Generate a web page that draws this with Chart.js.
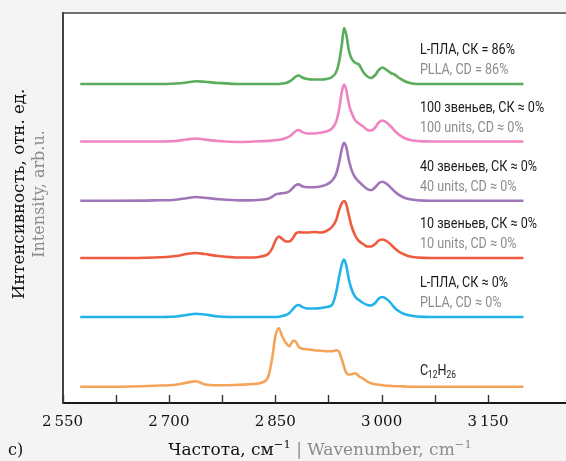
<!DOCTYPE html>
<html>
<head>
<meta charset="utf-8">
<script src="https://cdn.jsdelivr.net/npm/chart.js@4.4.0/dist/chart.umd.min.js"></script>
<style>
  html, body { margin: 0; padding: 0; background: #f4f4f4; }
  #wrap { width: 566px; height: 461px; }
</style>
</head>
<body>
<div id="wrap"><canvas id="ramanChart" width="566" height="461"></canvas></div>
<script>
/* Raman spectra, C-H stretching region (stacked, offset for clarity) */
var wavenumbers = [2575, 2620, 2680, 2710, 2725, 2738, 2750, 2770, 2800, 2820, 2830, 2840, 2846, 2850,
  2855, 2860, 2865, 2870, 2875, 2879, 2883, 2888, 2895, 2905, 2915, 2922, 2930, 2936, 2940, 2944,
  2947, 2950, 2954, 2958, 2963, 2968, 2974, 2980, 2985, 2991, 2996, 3001, 3007, 3013, 3018, 3025,
  3032, 3040, 3050, 3070, 3100, 3150, 3200];

var plla86 = [0, 0, 0, 0.5, 1.5, 2.7, 2.2, 1, 0, 0, 0, 0, 0, 0,
  0, 0.5, 1, 2.5, 5, 7.5, 8.5, 6.5, 5, 4.5, 4.5, 5, 7, 12, 22, 40,
  56, 50, 33, 25, 21, 19.5, 12, 7.5, 6, 9, 14, 16.5, 14, 11, 9.5, 6,
  3, 1, 0, 0, 0, 0, 0];
var units100 = [0, 0, 0, 0.5, 2, 3, 2, 0.5, -0.5, 0, 0.3, 0.6, 1, 1.3,
  1.7, 2.2, 3.5, 5, 8, 10.5, 11.5, 9.5, 8, 8, 9, 10, 13, 20, 32, 50,
  57, 52, 37, 28, 21, 18, 15, 11.5, 11, 14, 19, 21, 19, 15, 11, 6.5,
  3.5, 1.5, 0.5, 0, 0, 0, 0];
var units40 = [0, 0, 0.3, 1, 2.5, 3.7, 3, 1.5, 0.3, 0.5, 1, 2, 4, 6,
  7, 7.5, 8, 9.5, 13, 15.5, 16.3, 14.5, 13.5, 13.5, 14.5, 16, 20, 27, 38, 52,
  58, 54, 40, 30, 23, 19, 15, 11.5, 10.5, 13.5, 17.5, 19, 17, 13, 9.5, 5.5,
  3, 1.5, 0.5, 0, 0, 0, 0];
var units10 = [0, 0, 0.5, 2, 4, 5, 4, 2, 0.5, 0.5, 1.5, 4, 10, 17,
  21.5, 19, 16.5, 16.5, 20, 24.5, 25.7, 25.5, 25.5, 26, 25.5, 27, 31, 38, 48, 55,
  57, 54, 42, 31, 22, 17, 14, 11.5, 11.5, 14, 17.5, 18.5, 17, 13.5, 10, 6,
  3.5, 1.5, 0.5, 0, 0, 0, 0];
var plla0 = [0, 0, 0, 0.5, 2, 3.3, 2.5, 0.5, 0, 0, 0, 0, 0, 0,
  0.3, 1, 2, 4, 8, 11, 12, 10, 8.5, 8.5, 9, 10, 12, 25, 40, 53,
  57.5, 52, 37, 27, 20, 17, 14, 12, 11.5, 14, 18.5, 20, 18, 14, 9.5, 5.5,
  3, 1.5, 0.5, 0, 0, 0, 0];
var dodecane = [0, 0, 1, 2, 4, 5.5, 2.5, 1.5, 2, 2.7, 4, 10, 30, 50,
  58.5, 50, 44, 40.5, 46, 45, 40, 38, 37.5, 36.5, 36, 35.5, 35.5, 36.5, 35, 27,
  20, 14, 12, 12.5, 13.5, 10.5, 8, 5, 3.5, 2.5, 2, 1.5, 1, 0.8, 0.5, 0.5,
  0.3, 0, 0, 0, 0, 0, 0];

var seriesValues = [plla86, units100, units40, units10, plla0, dodecane];
var seriesOffsets = [319, 261.5, 202.3, 145, 86, 16.3];
var seriesColors = ["#5aad5a", "#f184bf", "#a176b8", "#ef5b3f", "#22b3ea", "#f5a35a"];
var labelsRu = ["L-ПЛА, СК = 86%", "100 звеньев, СК ≈ 0%", "40 звеньев, СК ≈ 0%", "10 звеньев, СК ≈ 0%", "L-ПЛА, СК ≈ 0%", ""];
var labelsEn = ["PLLA, CD = 86%", "100 units, CD ≈ 0%", "40 units, CD ≈ 0%", "10 units, CD ≈ 0%", "PLLA, CD ≈ 0%", ""];

var tickValues = [2550, 2700, 2850, 3000, 3150];
var tickLabels = ["2\u2009550", "2\u2009700", "2\u2009850", "3\u2009000", "3\u2009150"];

var SERIF = '"DejaVu Serif", "Liberation Serif", serif';
var SANS = 'Roboto, "Liberation Sans", sans-serif';

var datasets = seriesValues.map(function (vals, k) {
  return {
    data: wavenumbers.map(function (w, i) { return { x: w, y: seriesOffsets[k] + vals[i] }; }),
    borderColor: seriesColors[k],
    borderWidth: 2.6,
    pointRadius: 0,
    cubicInterpolationMode: "monotone",
    fill: false
  };
});

// condensed text: squeeze horizontally
function narrowText(ctx, txt, x, y, sx) {
  ctx.save();
  ctx.translate(x, y);
  ctx.scale(sx, 1);
  ctx.fillText(txt, 0, 0);
  ctx.restore();
  return ctx.measureText(txt).width * sx;
}

var decor = {
  id: "decor",
  beforeDraw: function (chart) {
    var ctx = chart.ctx, a = chart.chartArea;
    ctx.save();
    ctx.fillStyle = "#f4f4f4";
    ctx.fillRect(0, 0, chart.width, chart.height);
    ctx.fillStyle = "#ffffff";
    ctx.fillRect(a.left, a.top, a.right - a.left, a.bottom - a.top);
    ctx.restore();
  },
  afterDraw: function (chart) {
    var ctx = chart.ctx, a = chart.chartArea;
    var xs = chart.scales.x, ys = chart.scales.y;
    ctx.save();

    // top frame line
    ctx.strokeStyle = "#444";
    ctx.lineWidth = 1.6;
    ctx.beginPath();
    ctx.moveTo(a.left, a.top);
    ctx.lineTo(a.right, a.top);
    ctx.stroke();

    // inward tick marks
    ctx.strokeStyle = "#333";
    ctx.lineWidth = 1.4;
    xs.ticks.forEach(function (t) {
      var px = Math.round(xs.getPixelForValue(t.value)) + 0.5;
      ctx.beginPath();
      ctx.moveTo(px, a.bottom);
      ctx.lineTo(px, a.bottom - 8);
      ctx.stroke();
    });

    // series labels
    var lx = xs.getPixelForValue(3054);
    ctx.textBaseline = "middle";
    ctx.textAlign = "left";
    ctx.font = "15px " + SANS;
    var sx = 95 / ctx.measureText(labelsRu[0]).width;
    labelsRu.forEach(function (txt, k) {
      if (!txt) return;
      ctx.fillStyle = "#1a1a1a";
      narrowText(ctx, txt, lx, ys.getPixelForValue(seriesOffsets[k] + 33.5), sx);
      ctx.fillStyle = "#8c8c8c";
      narrowText(ctx, labelsEn[k], lx, ys.getPixelForValue(seriesOffsets[k] + 13.5), sx);
    });
    // C12H26
    var cy = ys.getPixelForValue(seriesOffsets[5] + 15);
    var cx = lx;
    ctx.fillStyle = "#1a1a1a";
    [["C", 15, 0], ["12", 10, 4], ["H", 15, 0], ["26", 10, 4]].forEach(function (p) {
      ctx.font = p[1] + "px " + SANS;
      cx += narrowText(ctx, p[0], cx, cy + p[2], sx);
    });

    // y title (rotated)
    ctx.save();
    ctx.translate(20, 194);
    ctx.rotate(-Math.PI / 2);
    ctx.textAlign = "center";
    ctx.font = "16.6px " + SERIF;
    ctx.fillStyle = "#111";
    ctx.fillText("Интенсивность, отн. ед.", 0, 0);
    ctx.translate(0, 20);
    ctx.font = "16px " + SERIF;
    ctx.fillStyle = "#8c8c8c";
    ctx.fillText("Intensity, arb.u.", 0, 0);
    ctx.restore();

    // x title
    var parts = [
      ["Частота, см", 17, 0, "#111"], ["\u22121", 11.5, -6, "#111"],
      [" | ", 17, 0, "#8c8c8c"], ["Wavenumber, cm", 17, 0, "#8c8c8c"], ["\u22121", 11.5, -6, "#8c8c8c"]
    ];
    var total = 0;
    parts.forEach(function (p) { ctx.font = p[1] + "px " + SERIF; total += ctx.measureText(p[0]).width; });
    var tx = 320 - total / 2, ty = 451;
    ctx.textAlign = "left";
    parts.forEach(function (p) {
      ctx.font = p[1] + "px " + SERIF;
      ctx.fillStyle = p[3];
      ctx.fillText(p[0], tx, ty + p[2]);
      tx += ctx.measureText(p[0]).width;
    });

    // panel letter
    ctx.font = "16px " + SERIF;
    ctx.fillStyle = "#111";
    ctx.fillText("c)", 8, 451);
    ctx.restore();
  }
};

new Chart(document.getElementById("ramanChart").getContext("2d"), {
  type: "line",
  data: { datasets: datasets },
  options: {
    responsive: false,
    animation: false,
    events: [],
    layout: { padding: { top: 13, right: 0, left: 0, bottom: 0 } },
    plugins: { legend: { display: false }, tooltip: { enabled: false } },
    scales: {
      x: {
        type: "linear",
        min: 2550,
        max: 3260,
        grid: { display: false, drawTicks: false },
        border: { display: true, color: "#1a1a1a", width: 2 },
        ticks: {
          stepSize: 75,
          autoSkip: false,
          maxRotation: 0,
          padding: 10,
          color: "#111",
          font: { family: SERIF, size: 15 },
          callback: function (v) {
            var i = tickValues.indexOf(v);
            return i >= 0 ? tickLabels[i] : "";
          }
        },
        afterBuildTicks: function (s) {
          s.ticks = s.ticks.filter(function (t) { return (t.value - 2550) % 75 === 0; });
        },
        afterFit: function (s) { s.height = 58; }
      },
      y: {
        min: 0,
        max: 390,
        grid: { display: false, drawTicks: false },
        border: { display: true, color: "#444", width: 2 },
        ticks: { display: false },
        afterFit: function (s) { s.width = 62.5; }
      }
    }
  },
  plugins: [decor]
});
</script>
</body>
</html>
